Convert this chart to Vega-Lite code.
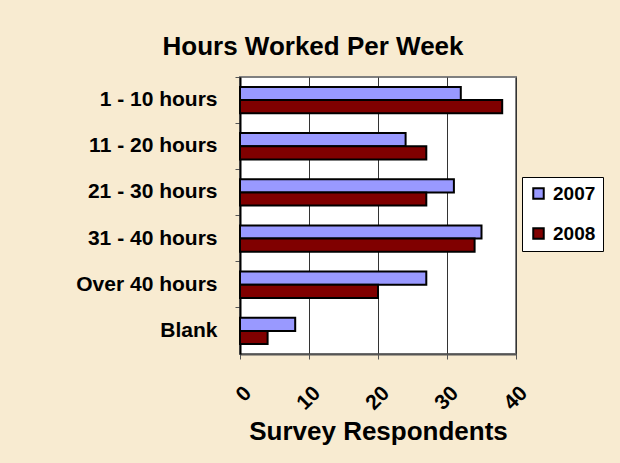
{
  "$schema": "https://vega.github.io/schema/vega-lite/v6.json",
  "width": 276,
  "height": 277,
  "autosize": {"type": "none"},
  "padding": {"left": 240, "top": 77, "right": 104, "bottom": 109},
  "background": "#F8EBD1",
  "title": {
    "text": "Hours Worked Per Week",
    "font": "Liberation Sans",
    "fontSize": 26,
    "fontWeight": "bold",
    "color": "#000000",
    "anchor": "middle",
    "frame": "group",
    "dx": -65,
    "dy": 26,
    "baseline": "alphabetic",
    "offset": 22
  },
  "data": {
    "values": [
      {"category": "1 - 10 hours", "year": "2007", "respondents": 32},
      {"category": "1 - 10 hours", "year": "2008", "respondents": 38},
      {"category": "11 - 20 hours", "year": "2007", "respondents": 24},
      {"category": "11 - 20 hours", "year": "2008", "respondents": 27},
      {"category": "21 - 30 hours", "year": "2007", "respondents": 31},
      {"category": "21 - 30 hours", "year": "2008", "respondents": 27},
      {"category": "31 - 40 hours", "year": "2007", "respondents": 35},
      {"category": "31 - 40 hours", "year": "2008", "respondents": 34},
      {"category": "Over 40 hours", "year": "2007", "respondents": 27},
      {"category": "Over 40 hours", "year": "2008", "respondents": 20},
      {"category": "Blank", "year": "2007", "respondents": 8},
      {"category": "Blank", "year": "2008", "respondents": 4}
    ]
  },
  "mark": {"type": "bar", "stroke": "#000000", "strokeWidth": 2},
  "encoding": {
    "y": {
      "field": "category",
      "type": "nominal",
      "sort": ["1 - 10 hours", "11 - 20 hours", "21 - 30 hours", "31 - 40 hours", "Over 40 hours", "Blank"],
      "scale": {"paddingInner": 0, "paddingOuter": 0},
      "axis": {
        "title": null,
        "bandPosition": 0,
        "labelFont": "Liberation Sans",
        "labelFontSize": 21,
        "labelFontWeight": "bold",
        "labelColor": "#000000",
        "labelPadding": 18,
        "tickSize": 5,
        "tickColor": "#555555",
        "tickWidth": 1,
        "domainColor": "#000000",
        "domainWidth": 2,
        "grid": false
      }
    },
    "yOffset": {
      "field": "year",
      "type": "nominal",
      "sort": ["2007", "2008"],
      "scale": {"paddingInner": 0, "paddingOuter": 0.755}
    },
    "x": {
      "field": "respondents",
      "type": "quantitative",
      "scale": {"domain": [0, 40], "nice": false},
      "axis": {
        "title": "Survey Respondents",
        "titleFont": "Liberation Sans",
        "titleFontSize": 26,
        "titleFontWeight": "bold",
        "titleColor": "#000000",
        "titlePadding": 5,
        "values": [0, 10, 20, 30, 40],
        "labelFont": "Liberation Sans",
        "labelFontSize": 21,
        "labelFontWeight": "bold",
        "labelColor": "#000000",
        "labelAngle": -45,
        "labelAlign": "right",
        "labelBaseline": "top",
        "labelPadding": 23,
        "tickSize": 5,
        "tickColor": "#555555",
        "domainColor": "#555555",
        "domainWidth": 2,
        "grid": true,
        "gridColor": "#333333",
        "gridWidth": 1
      }
    },
    "color": {
      "field": "year",
      "type": "nominal",
      "scale": {"domain": ["2007", "2008"], "range": ["#9999FF", "#800000"]},
      "legend": {
        "title": null,
        "orient": "none",
        "legendX": 282,
        "legendY": 100,
        "fillColor": "#FFFFFF",
        "strokeColor": "#000000",
        "padding": 7,
        "symbolType": "square",
        "symbolSize": 110,
        "symbolStrokeColor": "#000000",
        "symbolStrokeWidth": 2,
        "symbolOpacity": 1,
        "labelFont": "Liberation Sans",
        "labelFontSize": 19,
        "labelFontWeight": "bold",
        "labelColor": "#000000",
        "labelOffset": 5,
        "rowPadding": 20
      }
    }
  },
  "config": {
    "view": {"fill": "#FFFFFF", "stroke": "#808080", "strokeWidth": 2}
  }
}
